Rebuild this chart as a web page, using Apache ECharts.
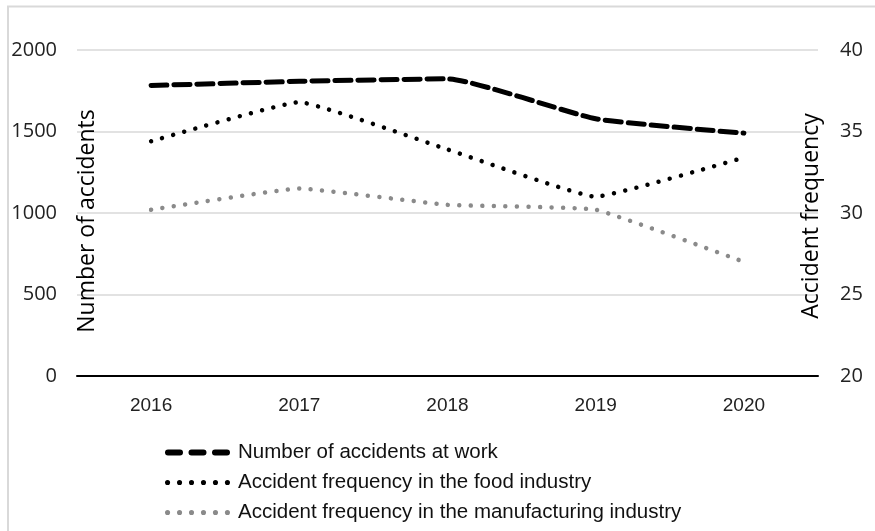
<!DOCTYPE html>
<html>
<head>
<meta charset="utf-8">
<script src="https://cdn.jsdelivr.net/npm/echarts@6/dist/echarts.min.js"></script>
<style>html,body{margin:0;padding:0;background:#fff}#c{width:875px;height:531px}</style>
</head>
<body>
<div id="c"></div>
<script>
const years = ['2016', '2017', '2018', '2019', '2020'];
const accidentsAtWork = [1782, 1808, 1823, 1578, 1490];
const foodFrequency = [34.4, 36.8, 33.9, 31.0, 33.4];
const manufacturingFrequency = [30.2, 31.5, 30.5, 30.2, 27.0];

const seriesNames = ['Number of accidents at work', 'Accident frequency in the food industry', 'Accident frequency in the manufacturing industry'];

// legend icon shapes (decorative): three rounded dashes, six dots
function dashIcon() {
  let p = '';
  for (let i = 0; i < 3; i++) {
    const x = i * 23.5;
    p += 'M' + (x + 3) + ',0 H' + (x + 15) + ' A3,3 0 0 1 ' + (x + 15) + ',6 H' + (x + 3) + ' A3,3 0 0 1 ' + (x + 3) + ',0 Z ';
  }
  return 'path://' + p;
}
function dotIcon() {
  let p = '';
  const r = 2.5;
  for (let i = 0; i < 6; i++) {
    const cx = r + i * 11.7;
    p += 'M' + (cx - r) + ',' + r + ' a' + r + ',' + r + ' 0 1,0 ' + (2 * r) + ',0 a' + r + ',' + r + ' 0 1,0 ' + (-2 * r) + ',0 Z ';
  }
  return 'path://' + p;
}

const chart = echarts.init(document.getElementById('c'), null, {renderer: 'canvas'});
const tickFont = '"Open Sans", "Noto Sans", sans-serif';
const catFont = '"Liberation Sans", sans-serif';

chart.setOption({
  animation: false,
  backgroundColor: '#fff',
  graphic: [
    {type: 'line', shape: {x1: 8, y1: 6, x2: 8, y2: 531}, style: {stroke: '#d9d9d9', lineWidth: 2}},
    {type: 'line', shape: {x1: 7, y1: 6.5, x2: 875, y2: 6.5}, style: {stroke: '#d9d9d9', lineWidth: 2}}
  ],
  grid: {left: 77, right: 57, top: 50, bottom: 155, containLabel: false, outerBoundsMode: 'none'},
  legend: {
    orient: 'vertical',
    left: 160,
    top: 437,
    itemWidth: 65,
    itemHeight: 6,
    itemGap: 9,
    symbolKeepAspect: true,
    textStyle: {fontFamily: catFont, fontSize: 20.5, color: '#111', padding: [0, 0, 0, 3]},
    data: [
      {name: seriesNames[0], icon: dashIcon(), itemStyle: {color: '#000'}},
      {name: seriesNames[1], icon: dotIcon(), itemStyle: {color: '#000'}},
      {name: seriesNames[2], icon: dotIcon(), itemStyle: {color: '#8a8a8a'}}
    ]
  },
  xAxis: {
    type: 'category',
    data: years,
    boundaryGap: true,
    axisLine: {lineStyle: {color: '#000', width: 2}},
    axisTick: {show: false},
    axisLabel: {fontFamily: catFont, fontSize: 19, color: '#222', margin: 20}
  },
  yAxis: [
    {
      type: 'value', min: 0, max: 2000, interval: 500,
      name: 'Number of accidents', nameLocation: 'middle', nameGap: -22, nameRotate: 90, nameMoveOverlap: false,
      nameTextStyle: {fontFamily: tickFont, fontSize: 23, color: '#000', padding: [0, 16, 0, 0]},
      axisLine: {show: false}, axisTick: {show: false},
      axisLabel: {fontFamily: tickFont, fontSize: 20, color: '#222', margin: 20, formatter: v => String(v)},
      splitLine: {lineStyle: {color: '#d9d9d9', width: 1.5}}
    },
    {
      type: 'value', min: 20, max: 40, interval: 5,
      name: 'Accident frequency', nameLocation: 'middle', nameGap: -18, nameRotate: 90, nameMoveOverlap: false,
      nameTextStyle: {fontFamily: tickFont, fontSize: 23, color: '#000', padding: [0, 6, 0, 0]},
      axisLine: {show: false}, axisTick: {show: false},
      axisLabel: {fontFamily: tickFont, fontSize: 20, color: '#222', margin: 22, formatter: v => String(v)},
      splitLine: {show: false}
    }
  ],
  series: [
    {
      name: seriesNames[0], type: 'line', yAxisIndex: 0, data: accidentsAtWork,
      symbol: 'none', smooth: 0.15, color: '#000',
      lineStyle: {color: '#000', width: 5, type: [16, 7], cap: 'round'}
    },
    {
      name: seriesNames[1], type: 'line', yAxisIndex: 1, data: foodFrequency,
      symbol: 'none', smooth: 0.1, color: '#000',
      lineStyle: {color: '#000', width: 4.5, type: [0.01, 11.5], cap: 'round'}
    },
    {
      name: seriesNames[2], type: 'line', yAxisIndex: 1, data: manufacturingFrequency,
      symbol: 'none', smooth: 0.1, color: '#8a8a8a',
      lineStyle: {color: '#8a8a8a', width: 4.5, type: [0.01, 11.5], cap: 'round'}
    }
  ]
});
</script>
</body>
</html>
